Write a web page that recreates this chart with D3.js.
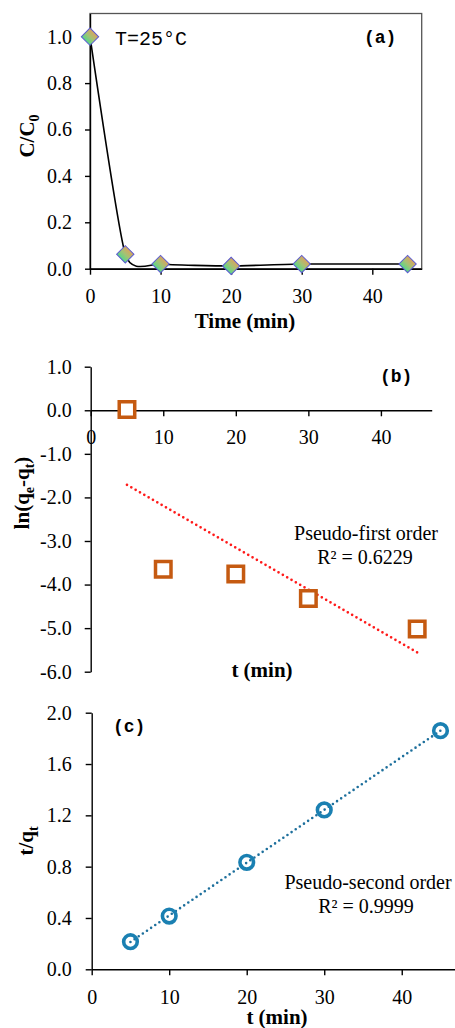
<!DOCTYPE html>
<html>
<head>
<meta charset="utf-8">
<script src="https://cdnjs.cloudflare.com/ajax/libs/d3/7.8.5/d3.min.js"></script>
<style>
  body { margin: 0; background: #fff; }
  svg { display: block; }
  .tick text { font-family: "Liberation Serif", "Times New Roman", serif; font-size: 20px; fill: #000; }
  .domain, .tick line { stroke: #000; stroke-width: 1.4px; }
  .axis-title { font-family: "Liberation Serif", "Times New Roman", serif; font-size: 21px; font-weight: bold; fill: #000; }
  .panel-tag { font-family: "Liberation Mono", "Courier New", monospace; font-size: 18px; font-weight: bold; fill: #000; }
  .note { font-family: "Liberation Serif", "Times New Roman", serif; font-size: 20px; fill: #000; }
</style>
</head>
<body>
<div id="chart"></div>
<script>
// (a) removal curve
const timeA = [0, 5, 10, 20, 30, 45];
const ratioA = [1.0, 0.062, 0.02, 0.012, 0.02, 0.02];
// (b) pseudo-first order
const timeB = [5, 10, 20, 30, 45];
const lnB = [0.02, -3.65, -3.76, -4.32, -5.02];
// (c) pseudo-second order
const timeC = [5, 10, 20, 30, 45];
const tqC = [0.215, 0.415, 0.834, 1.242, 1.86];

const xTicks = [0, 10, 20, 30, 40];
const yTicksA = [0, 0.2, 0.4, 0.6, 0.8, 1.0];
const yTicksB = [1, 0, -1, -2, -3, -4, -5, -6];
const yTicksC = [0, 0.4, 0.8, 1.2, 1.6, 2.0];
const fitTextB = ['Pseudo-first order', 'R\u00b2 = 0.6229'];
const fitTextC = ['Pseudo-second order', 'R\u00b2 = 0.9999'];

const width = 455;
const height = 1028;

// plain hyphen for negatives, like the original
const loc = d3.formatLocale({decimal: '.', thousands: ',', grouping: [3], currency: ['', ''], minus: '-'});
const f1 = loc.format('.1f');
const f0 = loc.format('d');
const serif = '"Liberation Serif", "Times New Roman", serif';

const svg = d3.select('#chart').append('svg')
  .attr('width', width)
  .attr('height', height);

const defs = svg.append('defs');
const grad = defs.append('linearGradient')
  .attr('id', 'diamondFill')
  .attr('x1', 0).attr('y1', 0).attr('x2', 0).attr('y2', 1);
grad.append('stop').attr('offset', '0%').attr('stop-color', '#d9a35f');
grad.append('stop').attr('offset', '50%').attr('stop-color', '#a4c274');
grad.append('stop').attr('offset', '100%').attr('stop-color', '#55d68a');

function linFit(xs, ys) {
  const mx = d3.mean(xs), my = d3.mean(ys);
  let sxy = 0, sxx = 0;
  xs.forEach((x, i) => { sxy += (x - mx) * (ys[i] - my); sxx += (x - mx) * (x - mx); });
  const slope = sxy / sxx;
  return x => my + slope * (x - mx);
}

function axisG(tr, axis) {
  return svg.append('g')
    .attr('transform', tr)
    .call(axis)
    .attr('font-family', serif)
    .attr('font-size', 20);
}

function yTitle(x, y, parts) {
  const t = svg.append('text')
    .attr('class', 'axis-title')
    .attr('transform', `translate(${x},${y}) rotate(-90)`)
    .attr('text-anchor', 'middle');
  parts.forEach(p => {
    const ts = t.append('tspan').text(p.text);
    if (p.sub) ts.attr('font-size', '14px').attr('dy', 5);
    else if (p.back) ts.attr('dy', -5);
  });
}

// ---------- panel (a) ----------
const xA = d3.scaleLinear().domain([0, 47]).range([90, 421.7]);
const yA = d3.scaleLinear().domain([0, 1.1]).range([268.7, 13.5]);

svg.append('rect')
  .attr('x', xA(0)).attr('y', yA(1.1))
  .attr('width', xA(47) - xA(0)).attr('height', yA(0) - yA(1.1))
  .attr('fill', 'none').attr('stroke', '#555').attr('stroke-width', 1.3);

axisG(`translate(0,${yA(0)})`,
  d3.axisBottom(xA).tickValues(xTicks).tickSize(6).tickSizeOuter(0).tickPadding(14).tickFormat(f0));
axisG(`translate(${xA(0)},0)`,
  d3.axisLeft(yA).tickValues(yTicksA).tickSize(5).tickSizeOuter(0).tickPadding(13).tickFormat(f1));

const ptsA = timeA.map((t, i) => [t, ratioA[i]]);
svg.append('path')
  .datum(ptsA)
  .attr('fill', 'none')
  .attr('stroke', '#000')
  .attr('stroke-width', 1.6)
  .attr('d', d3.line().x(d => xA(d[0])).y(d => yA(d[1])).curve(d3.curveCardinal.tension(0.45)));

svg.append('g').selectAll('path').data(ptsA).enter().append('path')
  .attr('d', d3.symbol(d3.symbolSquare, 150))
  .attr('transform', d => `translate(${xA(d[0])},${yA(d[1])}) rotate(45)`)
  .attr('fill', 'url(#diamondFill)')
  .attr('stroke', '#5a5ad0')
  .attr('stroke-width', 1);

svg.append('text').attr('class', 'panel-tag')
  .attr('x', 115).attr('y', 45)
  .style('font-size', '20px').style('font-weight', 'normal')
  .text('T=25\u00b0C');
svg.append('text').attr('class', 'panel-tag').attr('x', 364).attr('y', 43).text('(a)');
svg.append('text').attr('class', 'axis-title')
  .attr('x', 245).attr('y', 328).attr('text-anchor', 'middle').text('Time (min)');
yTitle(34, 136, [{text: 'C/C'}, {text: '0', sub: true}]);

// ---------- panel (b) ----------
const xB = d3.scaleLinear().domain([0, 47]).range([90.7, 431.7]);
const yB = d3.scaleLinear().domain([-6, 1]).range([671.7, 366.7]);

axisG(`translate(0,${yB(0)})`,
  d3.axisBottom(xB).tickValues(xTicks).tickSize(6).tickSizeOuter(0).tickPadding(14).tickFormat(f0));
axisG(`translate(${xB(0)},0)`,
  d3.axisLeft(yB).tickValues(yTicksB).tickSize(6).tickSizeOuter(0).tickPadding(13).tickFormat(f1));

const fitB = linFit(timeB, lnB);
const extB = d3.extent(timeB);
svg.append('line')
  .attr('x1', xB(extB[0])).attr('y1', yB(fitB(extB[0])))
  .attr('x2', xB(extB[1])).attr('y2', yB(fitB(extB[1])))
  .attr('stroke', '#ff1a1a')
  .attr('stroke-width', 2.7)
  .attr('stroke-linecap', 'round')
  .attr('stroke-dasharray', '0,5');

svg.append('g').selectAll('path').data(timeB).enter().append('path')
  .attr('d', d3.symbol(d3.symbolSquare, 240))
  .attr('transform', (d, i) => `translate(${xB(d)},${yB(lnB[i])})`)
  .attr('fill', '#fff')
  .attr('stroke', '#c55a11')
  .attr('stroke-width', 3.5);

svg.append('text').attr('class', 'panel-tag').attr('x', 380).attr('y', 382).text('(b)');
svg.append('text').attr('class', 'note').attr('x', 366).attr('y', 540).attr('text-anchor', 'middle').text(fitTextB[0]);
svg.append('text').attr('class', 'note').attr('x', 365).attr('y', 564).attr('text-anchor', 'middle').text(fitTextB[1]);
svg.append('text').attr('class', 'axis-title')
  .attr('x', 262).attr('y', 677).attr('text-anchor', 'middle').text('t (min)');
yTitle(29, 493, [{text: 'ln(q'}, {text: 'e', sub: true}, {text: '-q', back: true}, {text: 't', sub: true}, {text: ')', back: true}]);

// ---------- panel (c) ----------
const xC = d3.scaleLinear().domain([0, 47]).range([91.7, 456]);
const yC = d3.scaleLinear().domain([0, 2]).range([969.3, 712.7]);

axisG(`translate(0,${yC(0)})`,
  d3.axisBottom(xC).tickValues(xTicks).tickSize(6).tickSizeOuter(0).tickPadding(15).tickFormat(f0));
axisG(`translate(${xC(0)},0)`,
  d3.axisLeft(yC).tickValues(yTicksC).tickSize(6).tickSizeOuter(0).tickPadding(14).tickFormat(f1));

const fitC = linFit(timeC, tqC);
const extC = d3.extent(timeC);
svg.append('line')
  .attr('x1', xC(extC[0])).attr('y1', yC(fitC(extC[0])))
  .attr('x2', xC(extC[1])).attr('y2', yC(fitC(extC[1])))
  .attr('stroke', '#1d6f9c')
  .attr('stroke-width', 2.6)
  .attr('stroke-linecap', 'round')
  .attr('stroke-dasharray', '0,5');

svg.append('g').selectAll('circle').data(timeC).enter().append('circle')
  .attr('cx', d => xC(d))
  .attr('cy', (d, i) => yC(tqC[i]))
  .attr('r', 6.8)
  .attr('fill', 'none')
  .attr('stroke', '#1a80b2')
  .attr('stroke-width', 3.6);

svg.append('text').attr('class', 'panel-tag').attr('x', 113).attr('y', 732).text('(c)');
svg.append('text').attr('class', 'note').attr('x', 368).attr('y', 889).attr('text-anchor', 'middle').text(fitTextC[0]);
svg.append('text').attr('class', 'note').attr('x', 366).attr('y', 913).attr('text-anchor', 'middle').text(fitTextC[1]);
svg.append('text').attr('class', 'axis-title')
  .attr('x', 277).attr('y', 1024).attr('text-anchor', 'middle').text('t (min)');
yTitle(33, 841, [{text: 't/q'}, {text: 't', sub: true}]);
</script>
</body>
</html>
